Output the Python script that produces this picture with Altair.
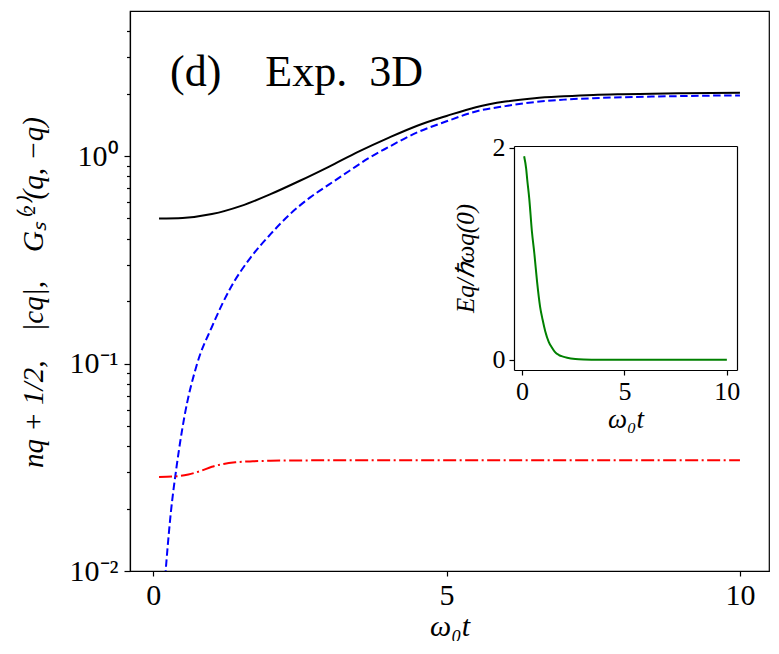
import altair as alt
import pandas as pd

# ---- data ----
t_n = [0.1, 0.5, 1.0, 1.5, 2.0, 2.5, 3.0, 3.5, 4.0, 4.5, 5.0, 5.5, 6.0, 6.5, 7.0, 7.5, 8.0, 8.5, 9.0, 9.5, 10.0]
n_half = [0.500, 0.503, 0.525, 0.575, 0.655, 0.76, 0.89, 1.05, 1.22, 1.40, 1.56, 1.72, 1.83, 1.90, 1.94, 1.97, 1.985, 1.995, 2.005, 2.01, 2.02]

t_c = [0.1, 0.2, 0.3, 0.4, 0.53, 0.75, 1.0, 1.32, 1.66, 2.0, 2.33, 2.67, 3.0, 3.34, 3.68, 4.0, 4.5, 5.0, 5.5, 6.0, 6.5, 7.0, 7.5, 8.0, 8.5, 9.0, 9.5, 10.0]
c_abs = [0.0035, 0.009, 0.019, 0.032, 0.055, 0.100, 0.150, 0.232, 0.324, 0.42, 0.524, 0.63, 0.73, 0.847, 0.98, 1.10, 1.30, 1.47, 1.64, 1.74, 1.82, 1.87, 1.90, 1.92, 1.935, 1.945, 1.955, 1.96]

t_g = [0.1, 0.4, 0.6, 0.8, 1.0, 1.2, 1.4, 1.7, 2.0, 2.5, 3.0, 4.0, 5.0, 6.0, 7.0, 8.0, 9.0, 10.0]
g_s = [0.0284, 0.0286, 0.0292, 0.0303, 0.0318, 0.0328, 0.0334, 0.0338, 0.0340, 0.0341, 0.0342, 0.0342, 0.0342, 0.0342, 0.0342, 0.0342, 0.0342, 0.0342]

t_e = [0.1, 0.2, 0.25, 0.35, 0.48, 0.6, 0.73, 0.88, 1.0, 1.13, 1.3, 1.46, 1.6, 1.8, 2.0, 2.2, 2.6, 3.0, 3.5, 4.0, 5.0, 6.0, 7.0, 8.0, 9.0, 10.0]
e_q = [1.92, 1.80, 1.70, 1.52, 1.21, 1.0, 0.74, 0.5, 0.38, 0.27, 0.17, 0.115, 0.075, 0.045, 0.03, 0.02, 0.008, 0.003, 0.001, 0.0, 0.0, 0.0, 0.0, 0.0, 0.0, 0.0]

x_ticks = [0, 5, 10]
y_major = [0.01, 0.1, 1]
y_minor = [0.02, 0.03, 0.04, 0.05, 0.06, 0.07, 0.08, 0.09,
           0.2, 0.3, 0.4, 0.5, 0.6, 0.7, 0.8, 0.9, 2, 3, 4]
inset_y_ticks = [0, 1, 2]
panel_label = "(d)\u2003Exp.\u20023D"
y_title = "nq + 1/2,\u2003|cq|,\u2003Gₛ⁽²⁾(q, −q)"
inset_y_title = "Eq/ℏωq(0)"
x_title = "ω₀t"

# ---- layout ----
FONT = "Liberation Serif"
W, H = 639, 560
XDOM = [-0.395, 10.495]
YDOM = [0.01, 5]
IXR = [384, 607]
IYR = [359, 135]
IYDOM = [-0.096, 2.016]

df_n = pd.DataFrame({"t": t_n, "v": n_half})
df_c = pd.DataFrame({"t": t_c, "v": c_abs})
df_g = pd.DataFrame({"t": t_g, "v": g_s})
df_e = pd.DataFrame({"t": t_e, "v": e_q})
df_lab = pd.DataFrame({"s": [panel_label]})

xs = alt.Scale(domain=XDOM, nice=False, zero=False)
ys = alt.Scale(type="log", domain=YDOM, nice=False)

xaxis = alt.Axis(orient="bottom", values=x_ticks, format="d", title=x_title,
                 labelFontSize=30, titleFontSize=30, tickSize=5, labelPadding=4,
                 titleFontStyle="italic", titleY=64, titleBaseline="alphabetic",
                 labelFlush=False)
yaxis = alt.Axis(orient="left", values=y_major,
                 labelExpr="datum.value >= 0.99 ? '10⁰' : datum.value >= 0.099 ? '10⁻¹' : '10⁻²'",
                 title=y_title,
                 labelFontSize=30, titleFontSize=29, tickSize=6, labelPadding=6,
                 titleFontStyle="italic", titleAngle=270, titleBaseline="alphabetic",
                 titleX=-88, titleY=281, titleAlign="center", labelFlush=False)

black = alt.Chart(df_n).mark_line(color="black", strokeWidth=2, interpolate="monotone").encode(
    x=alt.X("t:Q", scale=xs, axis=xaxis),
    y=alt.Y("v:Q", scale=ys, axis=yaxis),
)
blue = alt.Chart(df_c).mark_line(color="#0000ff", strokeWidth=2, strokeDash=[7.5, 3.5], clip=True,
                                 interpolate="monotone").encode(
    x="t:Q", y="v:Q"
)
red = alt.Chart(df_g).mark_line(color="#ff0000", strokeWidth=2, strokeDash=[13, 3.5, 2, 3.5],
                                interpolate="monotone").encode(
    x="t:Q", y="v:Q"
)
label = alt.Chart(df_lab).mark_text(align="left", baseline="alphabetic", fontSize=44, font=FONT,
                                     color="black").encode(
    x=alt.value(40), y=alt.value(75), text="s:N"
)
main = alt.layer(black, blue, red, label)

minor = alt.Chart(df_g).mark_line(opacity=0).encode(
    x=alt.X("t:Q", scale=xs, axis=None),
    y=alt.Y("v:Q", scale=ys, axis=alt.Axis(orient="left", values=y_minor, labels=False,
                                            tickSize=3.5, domain=False, title="")),
)

ixs = alt.Scale(domain=XDOM, range=IXR, nice=False, zero=False)
iys = alt.Scale(domain=IYDOM, range=IYR, nice=False, zero=False)

green = alt.Chart(df_e).mark_line(color="#008000", strokeWidth=2, interpolate="monotone").encode(
    x=alt.X("t:Q", scale=ixs, axis=alt.Axis(orient="bottom", offset=-(H - IYR[0]), values=x_ticks, format="d",
                                             title=x_title, labelFontSize=26, titleFontSize=27,
                                             tickSize=5, labelPadding=3, titleFontStyle="italic",
                                             titleY=57, titleBaseline="alphabetic", labelFlush=False)),
    y=alt.Y("v:Q", scale=iys, axis=alt.Axis(orient="left", offset=-IXR[0], values=inset_y_ticks, format="d",
                                             title=inset_y_title, labelFontSize=26, titleFontSize=25,
                                             tickSize=5, labelPadding=4, titleFontStyle="italic",
                                             titleAngle=270, titleBaseline="alphabetic",
                                             titleX=-41, titleY=(IYR[0] + IYR[1]) / 2, titleAlign="center",
                                             labelFlush=False)),
)
frame = alt.Chart(df_e).mark_line(opacity=0).encode(
    x=alt.X("t:Q", scale=ixs, axis=alt.Axis(orient="top", offset=-IYR[1], ticks=False, labels=False, title="")),
    y=alt.Y("v:Q", scale=iys, axis=alt.Axis(orient="right", offset=IXR[1] - W, ticks=False, labels=False, title="")),
)

chart = alt.layer(main, minor, green, frame).resolve_scale(
    x="independent", y="independent"
).properties(
    width=W, height=H,
    autosize=alt.AutoSizeParams(type="none"),
    padding={"left": 122, "top": 3, "right": 2, "bottom": 70},
).configure_view(
    stroke="black", strokeWidth=1.2
).configure_axis(
    grid=False, domainColor="black", tickColor="black", labelColor="black", titleColor="black",
    labelFont=FONT, titleFont=FONT, domainWidth=1.2, tickWidth=1.2, titleFontWeight="normal"
)

chart.save("out.html", embed_options={"renderer": "svg", "actions": False})
